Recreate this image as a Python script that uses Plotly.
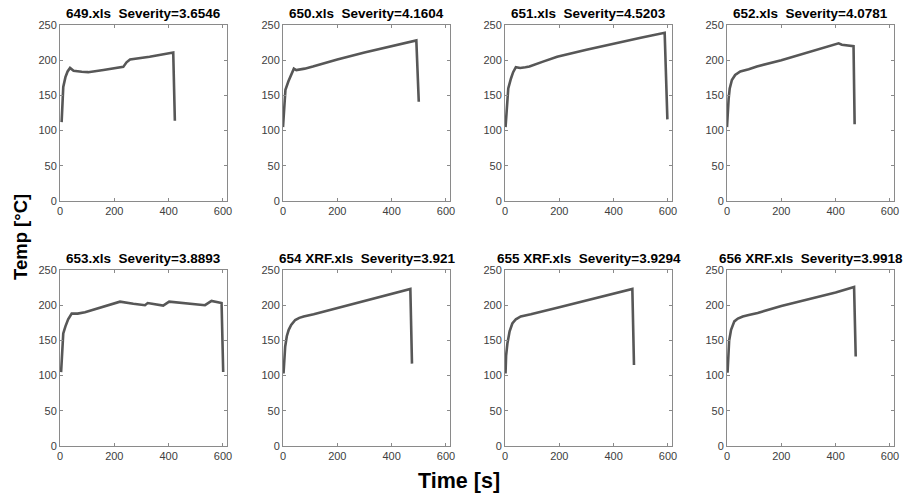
import plotly.graph_objects as go

W, H = 904, 493

titles = ["649.xls  Severity=3.6546", "650.xls  Severity=4.1604",
          "651.xls  Severity=4.5203", "652.xls  Severity=4.0781",
          "653.xls  Severity=3.8893", "654 XRF.xls  Severity=3.921",
          "655 XRF.xls  Severity=3.9294", "656 XRF.xls  Severity=3.9918"]

t649 = [6, 9, 12, 20, 28, 37, 50, 80, 104, 160, 233, 245, 258, 330, 417, 423]
T649 = [112, 145, 162, 176, 184, 189, 185, 183.5, 183, 186, 190.5, 197, 201, 205, 211, 114]

t650 = [0, 4, 9, 20, 30, 40, 49, 65, 80, 110, 200, 300, 400, 491, 500]
T650 = [105, 135, 158, 170, 180, 188, 186, 187, 188, 191, 201, 211, 220, 228, 141]

t651 = [2, 6, 12, 22, 30, 40, 56, 75, 90, 140, 192, 300, 400, 500, 588, 598]
T651 = [105, 135, 160, 174, 183, 190, 189, 190, 191, 198, 205, 215, 224, 232, 239, 116]

t652 = [0, 3, 6, 10, 18, 30, 49, 80, 110, 200, 300, 411, 423, 466, 470]
T652 = [105, 128, 145, 160, 172, 179, 184, 187, 191, 200, 211, 224, 222, 220, 109]

t653 = [4, 8, 12, 20, 30, 43, 65, 92, 150, 221, 270, 313, 323, 380, 402, 470, 534, 558, 595, 601]
T653 = [105, 140, 160, 170, 180, 188, 188, 190, 197, 205, 202, 200, 203, 199.5, 205, 202, 200, 206, 203, 105]

t654 = [2, 4, 8, 14, 21, 30, 45, 60, 76, 113, 200, 300, 400, 469, 475]
T654 = [103, 125, 141, 156, 165, 172, 179, 182, 184, 187, 196, 206, 216, 223, 117]

t655 = [2, 4, 9, 17, 27, 40, 58, 75, 95, 200, 300, 400, 469, 475]
T655 = [103, 128, 146, 163, 174, 180, 184, 185, 187, 197, 207, 216, 223, 115]

t656 = [2, 4, 8, 15, 27, 40, 58, 80, 113, 200, 300, 400, 468, 474]
T656 = [104, 130, 150, 165, 177, 181, 184, 186, 189, 199, 208, 218, 226, 127]

times = [t649, t650, t651, t652, t653, t654, t655, t656]
temps = [T649, T650, T651, T652, T653, T654, T655, T656]

xticks = [0, 200, 400, 600]
yticks = [0, 50, 100, 150, 200, 250]
xrange_ = [0, 615]
yrange_ = [0, 250]

col_px = [(60, 227), (283, 450), (505, 672), (727, 894)]
row_px = [(25, 201), (270, 446)]

FONT = "Liberation Sans, Arial, sans-serif"

fig = go.Figure()
layout = dict(template="none", width=W, height=H, margin=dict(l=0, r=0, t=0, b=0),
              paper_bgcolor="white", plot_bgcolor="white", showlegend=False,
              font=dict(family=FONT, color="#404040"))
annotations = []
for i in range(8):
    r, c = divmod(i, 4)
    n = "" if i == 0 else str(i + 1)
    x0, x1 = col_px[c]
    y0, y1 = row_px[r]
    fig.add_trace(go.Scatter(x=times[i], y=temps[i], mode="lines",
                             line=dict(color="#575757", width=2.6),
                             xaxis="x" + n, yaxis="y" + n, hoverinfo="skip"))
    axcommon = dict(showline=True, linecolor="#8a8a8a", linewidth=1, mirror="ticks",
                    ticks="inside", ticklen=3, tickcolor="#8a8a8a", showgrid=False,
                    zeroline=False, tickfont=dict(size=11, color="#404040", family=FONT))
    layout["xaxis" + n] = dict(domain=[x0 / W, x1 / W], range=xrange_, tickvals=xticks,
                               anchor="y" + n, **axcommon)
    layout["yaxis" + n] = dict(domain=[1 - y1 / H, 1 - y0 / H], range=yrange_, tickvals=yticks,
                               anchor="x" + n, **axcommon)
    annotations.append(dict(text="<b>" + titles[i] + "</b>", xref="paper", yref="paper",
                            x=(x0 + x1) / 2 / W, y=1 - (y0 - 2) / H, xanchor="center",
                            yanchor="bottom", showarrow=False,
                            font=dict(size=13.5, color="black", family=FONT)))

annotations.append(dict(text="<b>Temp [°C]</b>", xref="paper", yref="paper",
                        x=20 / W, y=1 - 237 / H, textangle=-90, showarrow=False,
                        xanchor="center", yanchor="middle",
                        font=dict(size=18.5, color="black", family=FONT)))
annotations.append(dict(text="<b>Time [s]</b>", xref="paper", yref="paper",
                        x=459 / W, y=1 - 481 / H, showarrow=False,
                        xanchor="center", yanchor="middle",
                        font=dict(size=21.5, color="black", family=FONT)))
layout["annotations"] = annotations
fig.update_layout(**layout)
fig.write_html("out.html")
